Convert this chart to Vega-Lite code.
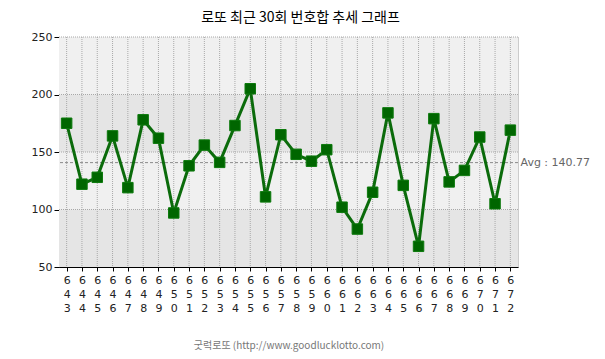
{
  "$schema": "https://vega.github.io/schema/vega-lite/v6.json",
  "width": 459,
  "height": 230,
  "autosize": {"type": "none"},
  "padding": {"left": 59, "top": 37, "right": 87, "bottom": 92},
  "background": "white",
  "view": {"stroke": "#999999", "strokeDash": [1, 1], "strokeWidth": 1},
  "title": {
    "text": "로또 최근 30회 번호합 추세 그래프",
    "font": "Noto Sans CJK KR",
    "fontSize": 14,
    "fontWeight": "normal",
    "color": "#000000",
    "anchor": "middle",
    "dx": 12,
    "offset": 6
  },
  "datasets": {
    "main": [
      {"round": "643", "sum": 175},
      {"round": "644", "sum": 122},
      {"round": "645", "sum": 128},
      {"round": "646", "sum": 164},
      {"round": "647", "sum": 119},
      {"round": "648", "sum": 178},
      {"round": "649", "sum": 162},
      {"round": "650", "sum": 97},
      {"round": "651", "sum": 138},
      {"round": "652", "sum": 156},
      {"round": "653", "sum": 141},
      {"round": "654", "sum": 173},
      {"round": "655", "sum": 205},
      {"round": "656", "sum": 111},
      {"round": "657", "sum": 165},
      {"round": "658", "sum": 148},
      {"round": "659", "sum": 142},
      {"round": "660", "sum": 152},
      {"round": "661", "sum": 102},
      {"round": "662", "sum": 83},
      {"round": "663", "sum": 115},
      {"round": "664", "sum": 184},
      {"round": "665", "sum": 121},
      {"round": "666", "sum": 68},
      {"round": "667", "sum": 179},
      {"round": "668", "sum": 124},
      {"round": "669", "sum": 134},
      {"round": "670", "sum": 163},
      {"round": "671", "sum": 105},
      {"round": "672", "sum": 169}
    ],
    "bands": [
      {"lo": 200, "hi": 250, "shade": "light"},
      {"lo": 150, "hi": 200, "shade": "dark"},
      {"lo": 100, "hi": 150, "shade": "light"},
      {"lo": 50, "hi": 100, "shade": "dark"}
    ],
    "hgrid": [{"v": 100}, {"v": 150}, {"v": 200}, {"v": 250}],
    "avg": [{"avg": 140.77}]
  },
  "resolve": {"scale": {"y": "shared"}, "axis": {"y": "independent"}},
  "layer": [
    {
      "data": {"name": "bands"},
      "mark": {"type": "rect"},
      "encoding": {
        "y": {"field": "lo", "type": "quantitative", "scale": {"domain": [50, 250], "nice": false}, "axis": null},
        "y2": {"field": "hi"},
        "color": {"field": "shade", "type": "nominal", "scale": {"domain": ["light", "dark"], "range": ["#f0f0f0", "#e5e5e5"]}, "legend": null}
      }
    },
    {
      "data": {"name": "main"},
      "mark": {"type": "rule", "color": "#a8a8a8", "strokeDash": [1, 1], "strokeWidth": 1},
      "encoding": {
        "x": {
          "field": "round",
          "type": "ordinal",
          "scale": {"type": "point", "padding": 0.5},
          "axis": {
            "labelAngle": 0,
            "labelExpr": "[substring(datum.label,0,1), substring(datum.label,1,2), substring(datum.label,2,3)]",
            "labelLineHeight": 14,
            "labelFont": "DejaVu Sans",
            "labelFontSize": 11,
            "labelColor": "#222222",
            "labelPadding": 3,
            "tickSize": 4,
            "tickColor": "#000000",
            "domainColor": "#000000",
            "grid": false,
            "title": "굿럭로또 (http://www.goodlucklotto.com)",
            "titleFont": "Noto Sans CJK KR",
            "titleFontSize": 10,
            "titleFontWeight": "normal",
            "titleColor": "#777777",
            "titlePadding": 27
          }
        }
      }
    },
    {
      "data": {"name": "hgrid"},
      "mark": {"type": "rule", "color": "#a8a8a8", "strokeDash": [1, 1], "strokeWidth": 1},
      "encoding": {
        "y": {"field": "v", "type": "quantitative", "axis": null}
      }
    },
    {
      "data": {"name": "avg"},
      "mark": {"type": "rule", "color": "#8a8a8a", "strokeDash": [3, 2], "strokeWidth": 1},
      "encoding": {
        "y": {
          "field": "avg",
          "type": "quantitative",
          "axis": {
            "orient": "right",
            "values": [140.77],
            "labelExpr": "'Avg : ' + format(datum.value, '.2f')",
            "domain": false,
            "ticks": false,
            "grid": false,
            "title": null,
            "labelFont": "DejaVu Sans",
            "labelFontSize": 11,
            "labelColor": "#666666",
            "labelPadding": 2
          }
        }
      }
    },
    {
      "data": {"name": "main"},
      "mark": {"type": "line", "color": "#0b6b0b", "strokeWidth": 3},
      "encoding": {
        "x": {"field": "round", "type": "ordinal", "scale": {"type": "point", "padding": 0.5}},
        "y": {
          "field": "sum",
          "type": "quantitative",
          "axis": {
            "orient": "left",
            "values": [50, 100, 150, 200, 250],
            "grid": false,
            "title": null,
            "labelFont": "DejaVu Sans",
            "labelFontSize": 11,
            "labelColor": "#222222",
            "labelPadding": 2,
            "tickSize": 5,
            "tickColor": "#000000",
            "domainColor": "#000000"
          }
        }
      }
    },
    {
      "data": {"name": "main"},
      "mark": {"type": "point", "shape": "square", "filled": true, "size": 110, "color": "#006600", "opacity": 1, "stroke": "#0d7a0d", "strokeWidth": 1},
      "encoding": {
        "x": {"field": "round", "type": "ordinal", "scale": {"type": "point", "padding": 0.5}},
        "y": {"field": "sum", "type": "quantitative", "axis": null}
      }
    }
  ]
}
